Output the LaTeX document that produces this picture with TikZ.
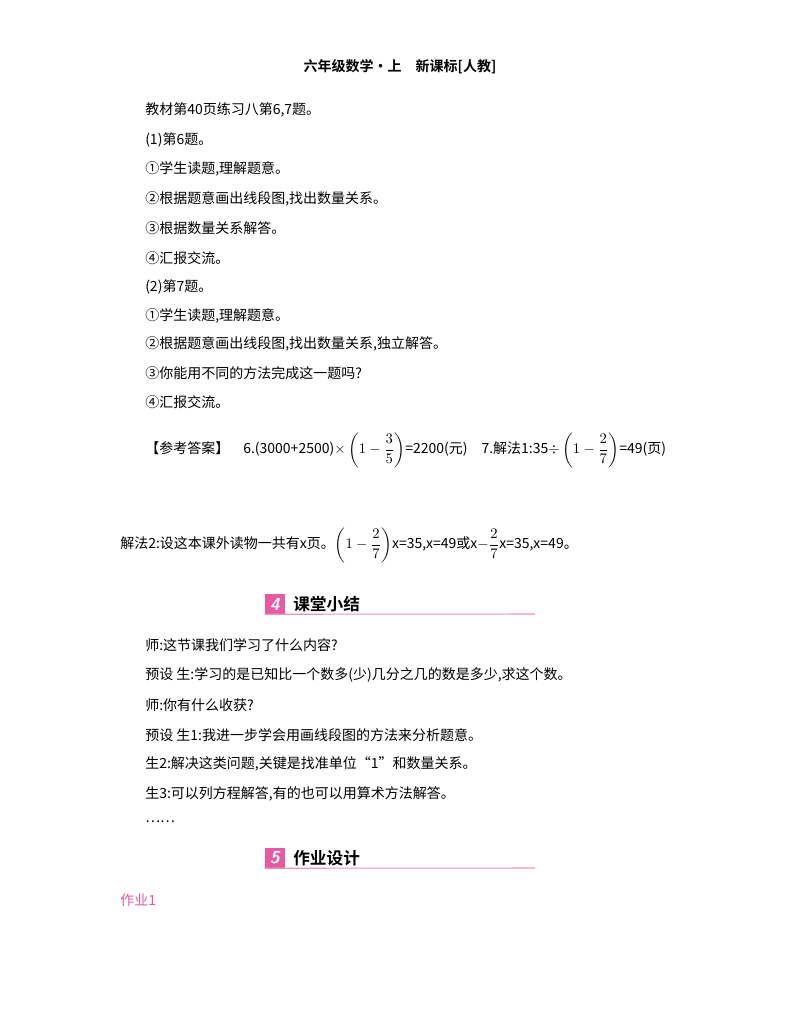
\documentclass[tikz,border=0pt]{standalone}
\usepackage{fontspec}
\usepackage{amsmath}
\newfontfamily\cjk{Noto Sans CJK SC}
\newfontfamily\cjkb{Noto Sans CJK SC Bold}
\definecolor{pinkc}{RGB}{232,90,160}
\definecolor{linec}{RGB}{230,150,190}
\begin{document}
\begin{tikzpicture}[x=0.75pt,y=-0.75pt,
  t/.style={anchor=west,inner sep=0pt,font=\fontsize{10.5}{13}\cjk},
  sec/.style={anchor=west,inner sep=0pt,font=\fontsize{12.5}{14}\cjkb},
  num/.style={fill=pinkc,text=white,inner sep=0pt,minimum width=15pt,minimum height=15pt,font=\bfseries\itshape\sffamily\fontsize{13}{13}\selectfont}]
\useasboundingbox (0,0) rectangle (800,1028);
\node[anchor=center,inner sep=0pt,font=\fontsize{10.5}{13}\cjkb] (h) at (400,67) {六年级数学·上\quad 新课标[人教]};
\node[t] (l1) at (145,110) {教材第40页练习八第6,7题。};
\node[t] (l2) at (145,140) {(1)第6题。};
\node[t] (l3) at (145,169) {①学生读题,理解题意。};
\node[t] (l4) at (145,199) {②根据题意画出线段图,找出数量关系。};
\node[t] (l5) at (145,228) {③根据数量关系解答。};
\node[t] (l6) at (145,258) {④汇报交流。};
\node[t] (l7) at (145,287) {(2)第7题。};
\node[t] (l8) at (145,316) {①学生读题,理解题意。};
\node[t] (l9) at (145,344) {②根据题意画出线段图,找出数量关系,独立解答。};
\node[t] (l10) at (145,373) {③你能用不同的方法完成这一题吗?};
\node[t] (l11) at (145,402) {④汇报交流。};
\node[t] (ans) at (145,450) {【参考答案】\quad 6.(3000+2500)$\times\left(1-\dfrac{3}{5}\right)$=2200(元)\quad 7.解法1:35$\div\left(1-\dfrac{2}{7}\right)$=49(页)};
\node[t] (ans2) at (120,545) {解法2:设这本课外读物一共有x页。$\left(1-\dfrac{2}{7}\right)$x=35,x=49或x$-\dfrac{2}{7}$x=35,x=49。};
\node[num] (n4) at (275,604) {4};
\node[sec] (s4) at (293,604) {课堂小结};
\draw[linec,line width=0.8pt] (n4.south west) -- (535,614);
\node[t] (m1) at (145,645) {师:这节课我们学习了什么内容?};
\node[t] (m2) at (145,675) {预设\ 生:学习的是已知比一个数多(少)几分之几的数是多少,求这个数。};
\node[t] (m3) at (145,705) {师:你有什么收获?};
\node[t] (m4) at (145,735) {预设\ 生1:我进一步学会用画线段图的方法来分析题意。};
\node[t] (m5) at (145,764) {生2:解决这类问题,关键是找准单位“1”和数量关系。};
\node[t] (m6) at (145,794) {生3:可以列方程解答,有的也可以用算术方法解答。};
\node[t] (m7) at (145,822) {……};
\node[num] (n5) at (275,858) {5};
\node[sec] (s5) at (293,858) {作业设计};
\draw[linec,line width=0.8pt] (n5.south west) -- (535,868);
\node[t,text=pinkc] (hw) at (120,900) {作业1};
\end{tikzpicture}
\end{document}
